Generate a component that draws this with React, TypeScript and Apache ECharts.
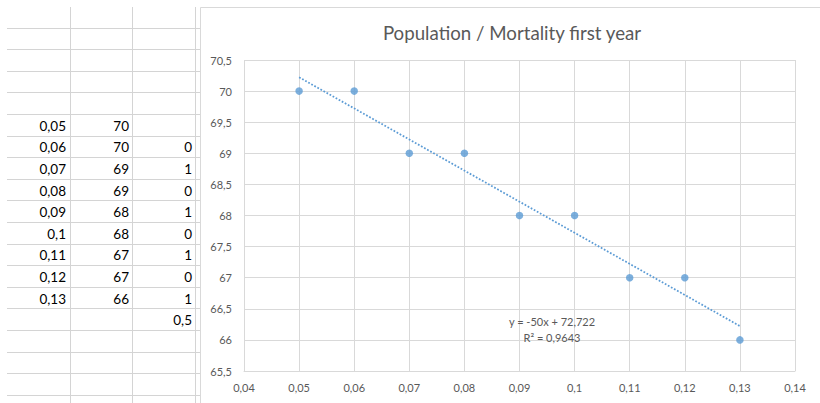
import React, { useEffect, useRef } from "react";
import * as echarts from "echarts";

// Sheet / chart data
const xValues = [0.05, 0.06, 0.07, 0.08, 0.09, 0.1, 0.11, 0.12, 0.13];
const yValues = [70, 70, 69, 69, 68, 68, 67, 67, 66];
const colCValues: (number | null)[] = [null, 0, 1, 0, 1, 0, 1, 0, 1, 0.5];
const titleText = "Population / Mortality first year";
const equationText = "y = -50x + 72,722";
const r2Text = "R² = 0,9643";
const xMin = 0.04, xMax = 0.14, xStep = 0.01;
const yMin = 65.5, yMax = 70.5, yStep = 0.5;

const FONT = "Lato, 'Open Sans', sans-serif";
const fmt = (v: number) => String(Number(v.toFixed(4))).replace(".", ",");

// least-squares trend line from the data (as Excel does)
function regression(xs: number[], ys: number[]) {
  const n = xs.length;
  const mx = xs.reduce((a, b) => a + b, 0) / n;
  const my = ys.reduce((a, b) => a + b, 0) / n;
  let sxy = 0, sxx = 0;
  for (let i = 0; i < n; i++) {
    sxy += (xs[i] - mx) * (ys[i] - my);
    sxx += (xs[i] - mx) ** 2;
  }
  const slope = sxy / sxx;
  return { slope, intercept: my - slope * mx };
}

export default function App() {
  const ref = useRef<HTMLDivElement>(null);
  useEffect(() => {
    if (!ref.current) return;
    const chart = echarts.init(ref.current, undefined, { renderer: "svg" });
    const { slope, intercept } = regression(xValues, yValues);
    const x0 = xValues[0], x1 = xValues[xValues.length - 1];
    const trend = [
      [x0, slope * x0 + intercept],
      [x1, slope * x1 + intercept],
    ];

    // spreadsheet grid
    const gridColor = "#d4d4d4";
    const rowH = 21.6;
    const rowTop = 6;
    const sheet: any[] = [];
    for (let k = 1; k <= 18; k++) {
      const y = Math.round(rowTop + k * rowH) + 0.5;
      sheet.push({ type: "line", shape: { x1: 7, y1: y, x2: 200, y2: y }, style: { stroke: gridColor, lineWidth: 1 }, silent: true });
    }
    [70, 132, 195].forEach((x) => {
      sheet.push({ type: "line", shape: { x1: x + 0.5, y1: 7, x2: x + 0.5, y2: 403 }, style: { stroke: gridColor, lineWidth: 1 }, silent: true });
    });
    const firstDataRow = 5;
    const cellCenter = (i: number) => rowTop + (firstDataRow + i) * rowH + rowH / 2 + 1;
    const cellText = (txt: string, right: number, i: number) => ({
      type: "text",
      x: right,
      y: cellCenter(i),
      style: { text: txt, fill: "#000000", font: `13.5px ${FONT}`, textAlign: "right", textVerticalAlign: "middle" },
      silent: true,
    });
    xValues.forEach((v, i) => sheet.push(cellText(fmt(v), 66, i)));
    yValues.forEach((v, i) => sheet.push(cellText(fmt(v), 129, i)));
    colCValues.forEach((v, i) => {
      if (v !== null) sheet.push(cellText(fmt(v), 192, i));
    });
    // chart frame
    sheet.push({ type: "polyline", shape: { points: [[200.5, 403], [200.5, 7.5], [820, 7.5]] }, style: { stroke: "#d9d9d9", fill: "none", lineWidth: 1 }, silent: true });
    // trendline label
    sheet.push({ type: "text", x: 552, y: 321, style: { text: equationText, fill: "#595959", font: `11px ${FONT}`, textAlign: "center", textVerticalAlign: "middle" }, z: 10 });
    sheet.push({ type: "text", x: 552, y: 337, style: { text: r2Text, fill: "#595959", font: `11px ${FONT}`, textAlign: "center", textVerticalAlign: "middle" }, z: 10 });

    chart.setOption({
      animation: false,
      backgroundColor: "#ffffff",
      title: {
        text: titleText,
        left: 507,
        top: 18,
        textAlign: "center",
        textStyle: { fontFamily: FONT, fontSize: 18.7, fontWeight: "normal", color: "#595959" },
      },
      grid: { left: 244, top: 60, right: 25, bottom: 32, containLabel: false },
      xAxis: {
        type: "value",
        min: xMin,
        max: xMax,
        interval: xStep,
        axisLine: { show: true, lineStyle: { color: "#d9d9d9" } },
        axisTick: { show: false },
        splitLine: { show: true, lineStyle: { color: "#d9d9d9" } },
        axisLabel: { formatter: (v: number) => fmt(v), color: "#595959", fontFamily: FONT, fontSize: 11, margin: 11 },
      },
      yAxis: {
        type: "value",
        min: yMin,
        max: yMax,
        interval: yStep,
        axisLine: { show: false },
        axisTick: { show: false },
        splitLine: { show: true, lineStyle: { color: "#d9d9d9" } },
        axisLabel: { formatter: (v: number) => fmt(v), color: "#595959", fontFamily: FONT, fontSize: 11, margin: 12 },
      },
      series: [
        {
          type: "line",
          data: trend,
          symbol: "none",
          lineStyle: { color: "#5B9BD5", width: 1.75, type: [1.75, 1.75] },
          z: 2,
          silent: true,
        },
        {
          type: "scatter",
          data: xValues.map((x, i) => [x, yValues[i]]),
          symbol: "circle",
          symbolSize: 7.5,
          itemStyle: { color: "#5B9BD5" },
          z: 3,
        },
      ],
      graphic: sheet,
    });
    return () => chart.dispose();
  }, []);
  return <div ref={ref} style={{ position: "fixed", left: 0, top: 0, width: 820, height: 403 }} />;
}
